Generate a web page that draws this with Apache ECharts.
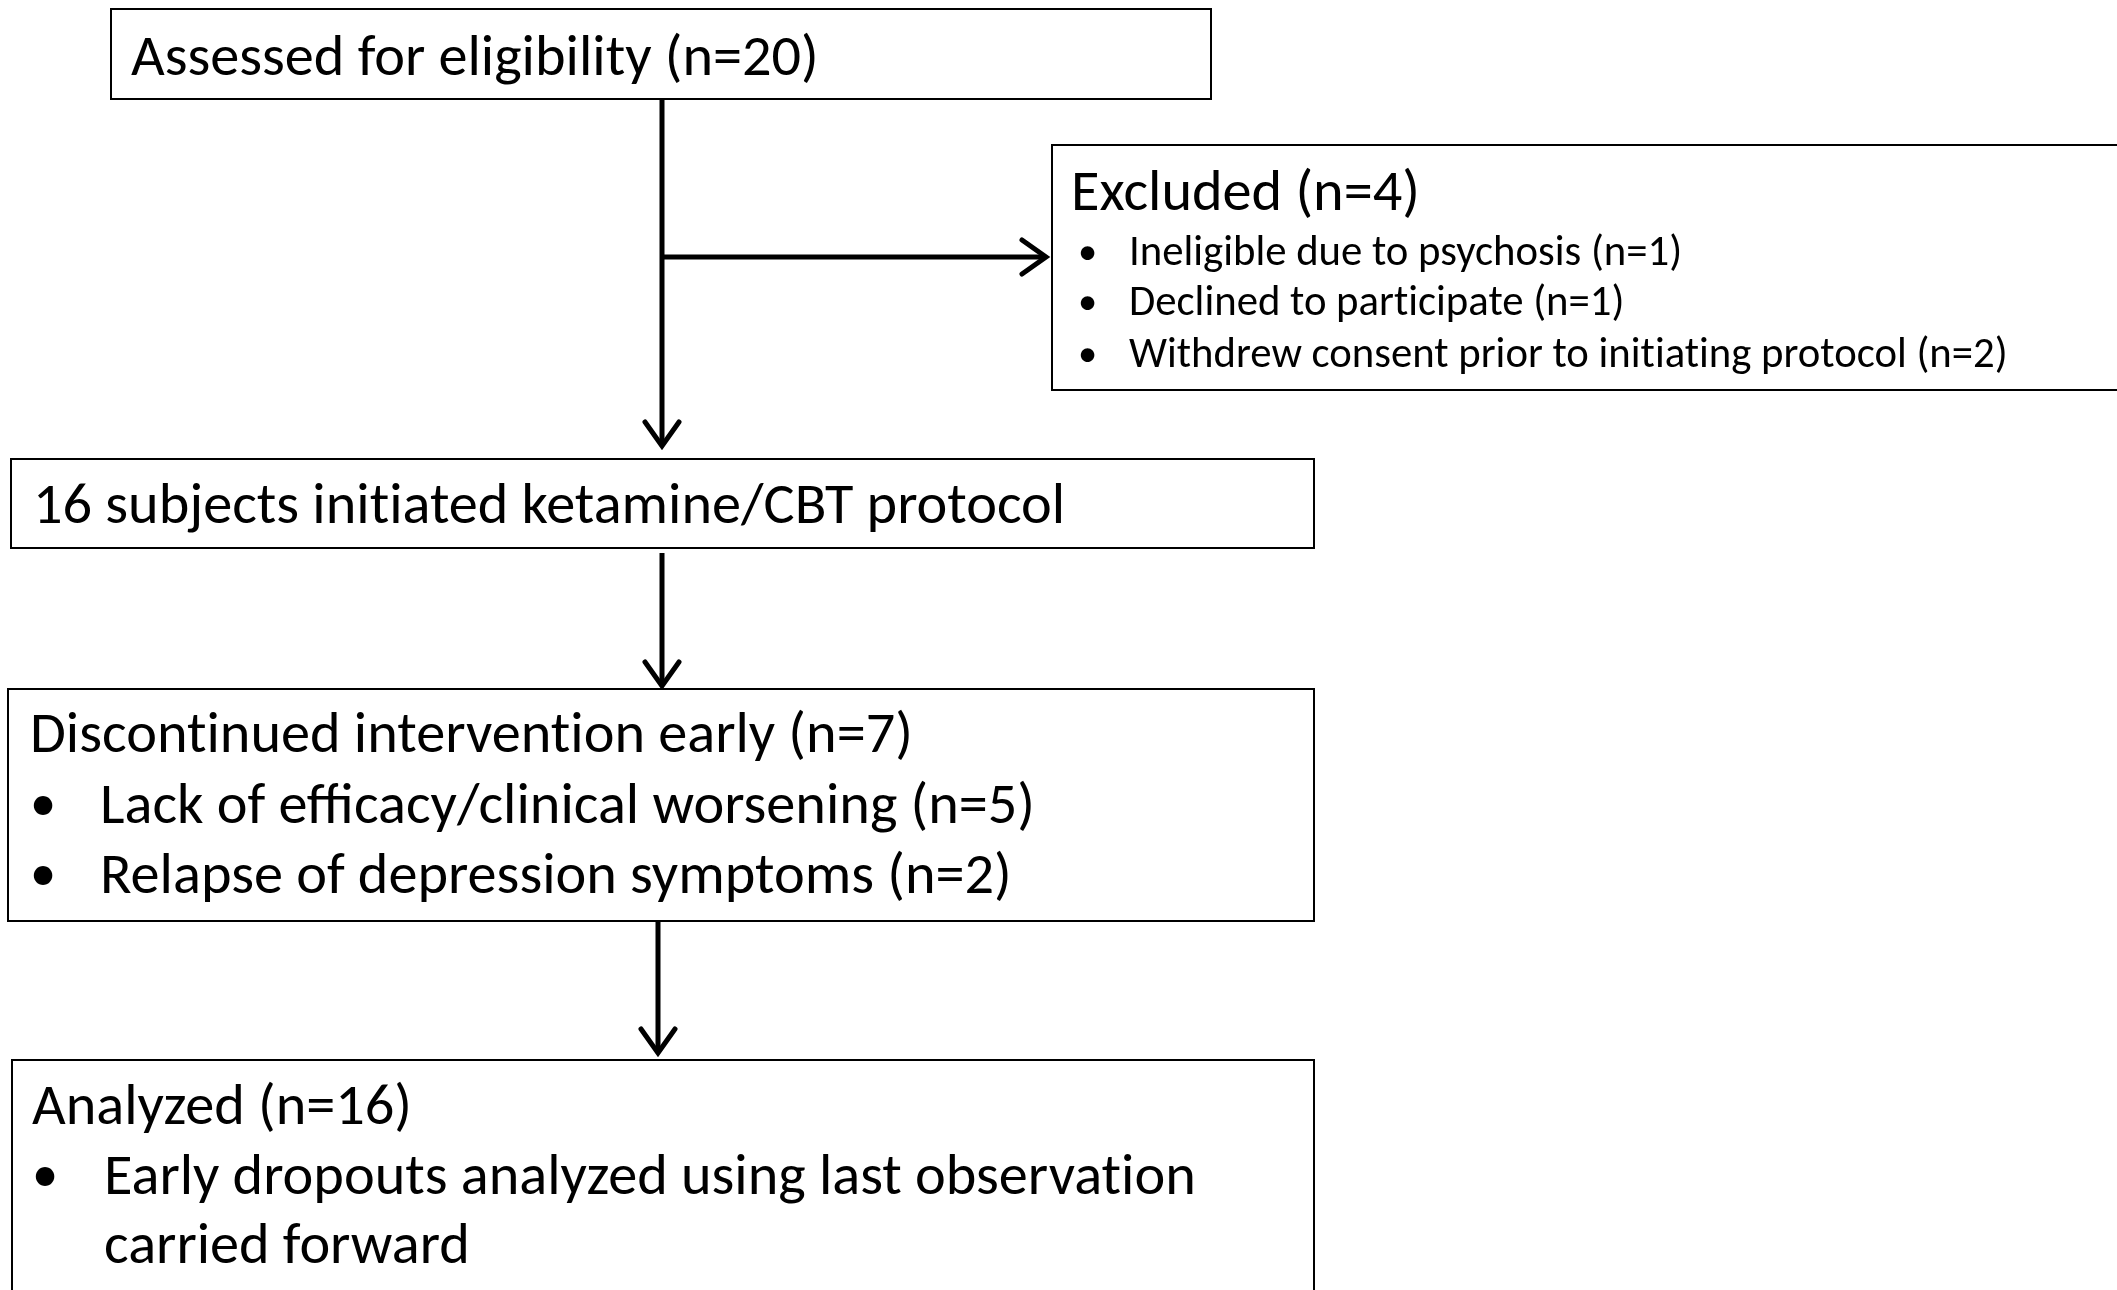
<!DOCTYPE html>
<html>
<head>
<meta charset="utf-8">
<script src="https://cdn.jsdelivr.net/npm/echarts@6/dist/echarts.min.js"></script>
<style>
    html, body { margin: 0; padding: 0; background: #fff; }
    #chart { width: 2117px; height: 1290px; }
</style>
</head>
<body>
<div id="chart"></div>
<script>
(function () {

    // flow content
    var stageTitles = ['Assessed for eligibility', 'Excluded', '16 subjects initiated ketamine/CBT protocol',
        'Discontinued intervention early', 'Analyzed'];
    var stageCounts = [20, 4, null, 7, 16];
    var excludedReasons = ['Ineligible due to psychosis', 'Declined to participate',
        'Withdrew consent prior to initiating protocol'];
    var excludedCounts = [1, 1, 2];
    var discontinuedReasons = ['Lack of efficacy/clinical worsening', 'Relapse of depression symptoms'];
    var discontinuedCounts = [5, 2];
    var analyzedNotes = ['Early dropouts analyzed using last observation', 'carried forward'];

    // layout (chart units = pixels of the 2117x1290 canvas)
    var boxes = [
        [111, 9, 1211, 99],
        [1052, 145, 2130, 390],
        [11, 459, 1314, 548],
        [8, 689, 1314, 921],
        [12, 1060, 1314, 1300]
    ];
    var arrows = [
        [662, 99, 662, 446],
        [662, 257, 1046, 257],
        [662, 553, 662, 686],
        [658, 921, 658, 1053]
    ];

    var FONT = 'Carlito, Lato, "Open Sans", sans-serif';

    function fitSize(str, target) {
        var ctx = document.createElement('canvas').getContext('2d');
        ctx.font = '100px ' + FONT;
        return 100 * target / ctx.measureText(str).width;
    }

    // keep "t" and "i" apart (no ligature)
    var plain = function (s) { return s.replace(/ti/g, 't\u200Ci'); };
    var withN = function (t, n) { return plain(n == null ? t : t + ' (n=' + n + ')'); };

    var big = fitSize(withN(stageTitles[0], stageCounts[0]), 688);
    var small = fitSize(withN(excludedReasons[2], excludedCounts[2]), 879);

    // text lines for each box: [text, x, y, size, bullet x or null]
    var boxLines = [
        [[withN(stageTitles[0], stageCounts[0]), 131, 60, big, null]],
        [[withN(stageTitles[1], stageCounts[1]), 1071, 195, big, null]].concat(
            excludedReasons.map(function (r, i) {
                return [withN(r, excludedCounts[i]), 1129, [254, 304, 356][i], small, 1078];
            })),
        [[plain(stageTitles[2]), 33, 508, big, null]],
        [[withN(stageTitles[3], stageCounts[3]), 30, 737, big, null]].concat(
            discontinuedReasons.map(function (r, i) {
                return [withN(r, discontinuedCounts[i]), 100, [808, 878][i], big, 30];
            })),
        [[withN(stageTitles[4], stageCounts[4]), 32, 1109, big, null],
            [plain(analyzedNotes[0]), 104, 1179, big, 32],
            [plain(analyzedNotes[1]), 104, 1248, big, null]]
    ];

    function textEl(str, p, size) {
        return {
            type: 'text', x: p[0], y: p[1],
            style: { text: str, fontSize: size, fontFamily: FONT, fill: '#000', align: 'left', verticalAlign: 'middle' }
        };
    }

    var option = {
        animation: false,
        backgroundColor: '#fff',
        grid: { left: 0, right: 0, top: 0, bottom: 0 },
        xAxis: { type: 'value', min: 0, max: 2117, show: false },
        yAxis: { type: 'value', min: 0, max: 1290, inverse: true, show: false },
        series: [
            {
                type: 'custom',
                clip: false,
                encode: { x: [0, 2], y: [1, 3] },
                data: boxes,
                renderItem: function (params, api) {
                    var p0 = api.coord([api.value(0), api.value(1)]);
                    var p1 = api.coord([api.value(2), api.value(3)]);
                    var children = [{
                        type: 'rect',
                        shape: { x: p0[0], y: p0[1], width: p1[0] - p0[0], height: p1[1] - p0[1] },
                        style: { fill: '#fff', stroke: '#000', lineWidth: 2 }
                    }];
                    boxLines[params.dataIndex].forEach(function (ln) {
                        children.push(textEl(ln[0], api.coord([ln[1], ln[2]]), ln[3]));
                        if (ln[4] != null) {
                            children.push(textEl('\u2022', api.coord([ln[4], ln[2]]), ln[3] * 0.9));
                        }
                    });
                    return { type: 'group', children: children };
                }
            },
            {
                type: 'custom',
                clip: false,
                encode: { x: [0, 2], y: [1, 3] },
                data: arrows,
                renderItem: function (params, api) {
                    var a = api.coord([api.value(0), api.value(1)]);
                    var b = api.coord([api.value(2), api.value(3)]);
                    var dx = b[0] - a[0], dy = b[1] - a[1];
                    var len = Math.sqrt(dx * dx + dy * dy);
                    var ux = dx / len, uy = dy / len;
                    var back = 24, half = 17;
                    var h1 = [b[0] - ux * back - uy * half, b[1] - uy * back + ux * half];
                    var h2 = [b[0] - ux * back + uy * half, b[1] - uy * back - ux * half];
                    return {
                        type: 'group',
                        children: [
                            { type: 'line', shape: { x1: a[0], y1: a[1], x2: b[0] - ux * 3, y2: b[1] - uy * 3 },
                                style: { stroke: '#000', lineWidth: 5 } },
                            { type: 'polyline', shape: { points: [h1, b, h2] },
                                style: { stroke: '#000', lineWidth: 5, fill: null, lineCap: 'round' } }
                        ]
                    };
                }
            }
        ]
    };

    var myChart = echarts.init(document.getElementById('chart'));
    myChart.setOption(option);

})();
</script>
</body>
</html>
